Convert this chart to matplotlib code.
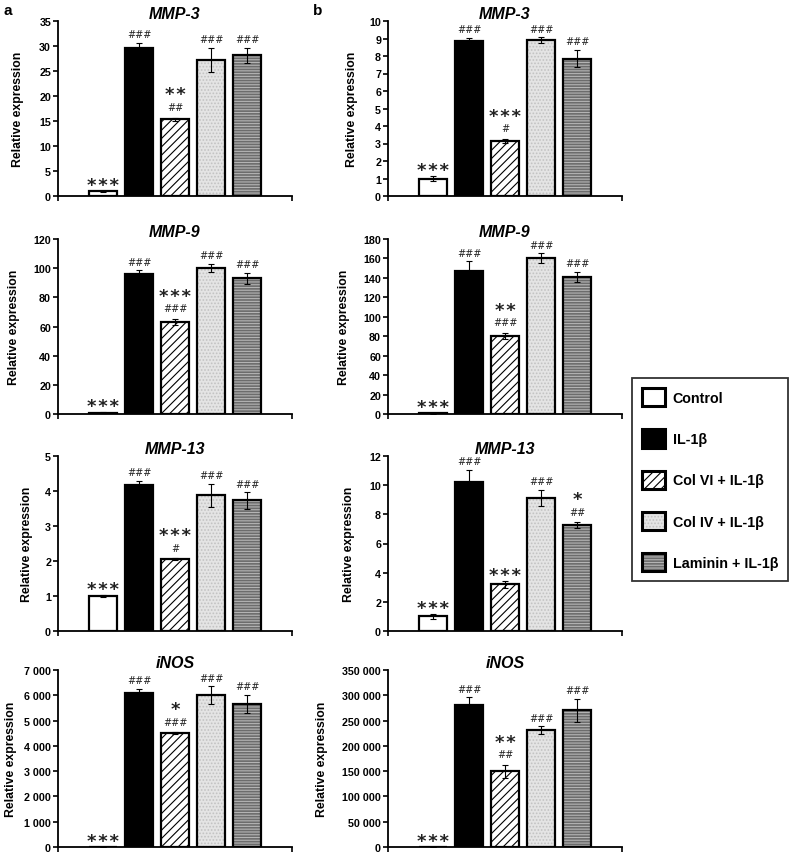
import matplotlib
matplotlib.use('Agg')
import matplotlib.pyplot as plt
from matplotlib.patches import Patch
from matplotlib.legend_handler import HandlerTuple
from matplotlib.ticker import FuncFormatter, MultipleLocator

plt.rcParams['font.family'] = ['Liberation Sans', 'DejaVu Sans']
plt.rcParams['font.weight'] = 'bold'
plt.rcParams['hatch.linewidth'] = 0.8

# ---------------- data ----------------
groups = ['Control', 'IL-1β', 'Col VI + IL-1β', 'Col IV + IL-1β', 'Laminin + IL-1β']
genes = ['MMP-3', 'MMP-9', 'MMP-13', 'iNOS']

# panel a
a_mmp3 = [1.0, 29.6, 15.4, 27.2, 28.2]
a_mmp3_err = [0.1, 1.0, 0.3, 2.4, 1.5]
a_mmp9 = [1.0, 96.3, 63.1, 100.4, 93.1]
a_mmp9_err = [0.3, 2.3, 2.2, 2.7, 3.7]
a_mmp13 = [1.0, 4.17, 2.06, 3.88, 3.73]
a_mmp13_err = [0.03, 0.12, 0.02, 0.33, 0.23]
a_inos = [1.0, 6100, 4490, 6000, 5650]
a_inos_err = [1.0, 150, 40, 350, 370]

# panel b
b_mmp3 = [1.0, 8.85, 3.15, 8.9, 7.85]
b_mmp3_err = [0.15, 0.2, 0.1, 0.18, 0.5]
b_mmp9 = [1.0, 147, 80.6, 160.4, 141.2]
b_mmp9_err = [0.5, 10, 3, 5, 5]
b_mmp13 = [1.0, 10.2, 3.2, 9.15, 7.25]
b_mmp13_err = [0.15, 0.85, 0.22, 0.55, 0.2]
b_inos = [1.0, 280000, 150000, 231000, 270000]
b_inos_err = [500, 16000, 13000, 8000, 23000]

# significance marks (* vs IL-1β, # vs control)
a_stars = [['***', '', '**', '', ''], ['***', '', '***', '', ''],
           ['***', '', '***', '', ''], ['***', '', '*', '', '']]
a_hash = [['', '###', '##', '###', '###'], ['', '###', '###', '###', '###'],
          ['', '###', '#', '###', '###'], ['', '###', '###', '###', '###']]
b_stars = [['***', '', '***', '', ''], ['***', '', '**', '', ''],
           ['***', '', '***', '', '*'], ['***', '', '**', '', '']]
b_hash = [['', '###', '#', '###', '###'], ['', '###', '###', '###', '###'],
          ['', '###', '', '###', '##'], ['', '###', '##', '###', '###']]

a_ymax = [35, 120, 5, 7000]
a_ystep = [5, 20, 1, 1000]
b_ymax = [10, 180, 12, 350000]
b_ystep = [1, 20, 2, 50000]

a_vals = [a_mmp3, a_mmp9, a_mmp13, a_inos]
a_errs = [a_mmp3_err, a_mmp9_err, a_mmp13_err, a_inos_err]
b_vals = [b_mmp3, b_mmp9, b_mmp13, b_inos]
b_errs = [b_mmp3_err, b_mmp9_err, b_mmp13_err, b_inos_err]

# ---------------- styles ----------------
face = ['white', 'black', 'white', '#e4e4e4', '#6c6c6c']
hatches = [None, None, '////', '.....', '------']
hcolor = ['white', 'black', 'black', '#c2c2c2', '#b4b4b4']

W, H = 789, 854
fig = plt.figure(figsize=(W / 100, H / 100), dpi=100)
col_x = [58, 388]
ax_w = 234
row_y = [(22, 197), (240, 415), (457, 632), (671, 848)]
ylab_px = [[18.5, 14, 27.5, 11], [352.5, 344, 349, 322.5]]


def fmt(v, p):
    return f'{int(round(v)):,}'.replace(',', ' ')


def draw_panel(ax, vals, errs, ymax, ystep, stars, hashes, title):
    x = list(range(len(vals)))
    for i in x:
        ax.bar(i, vals[i], width=0.8, color=face[i], hatch=hatches[i],
               edgecolor=hcolor[i], linewidth=0, zorder=2)
        ax.bar(i, vals[i], width=0.8, fill=False, edgecolor='black',
               linewidth=1.6, zorder=3)
    ax.errorbar(x, vals, yerr=errs, fmt='none', ecolor='black', elinewidth=0.8,
                capsize=2, capthick=0.8, zorder=4)
    for i in x:
        top = vals[i] + errs[i]
        if hashes[i]:
            ax.annotate(hashes[i], (i, top), xytext=(0, 5.5 if stars[i] else 4),
                        textcoords='offset points', ha='center', va='baseline',
                        fontsize=7, family='DejaVu Sans', fontweight='normal',
                        color='#222222', zorder=5)
        if stars[i]:
            ax.annotate('\u200a'.join(stars[i]), (i, top),
                        xytext=(0, 13 if hashes[i] else 0.6),
                        textcoords='offset points', ha='center', va='baseline',
                        fontsize=13, family='DejaVu Sans', fontweight='bold',
                        color='#222222', zorder=5)
    ax.set_xlim(-1.25, 5.25)
    ax.set_ylim(0, ymax)
    ax.yaxis.set_major_locator(MultipleLocator(ystep))
    ax.yaxis.set_major_formatter(FuncFormatter(fmt))
    ax.set_xticks([-1.25, 5.25])
    ax.set_xticklabels(['', ''])
    ax.tick_params(axis='both', direction='out', length=3.5, width=1.2, pad=1.5,
                   labelsize=7.7)
    for lab in ax.get_yticklabels():
        lab.set_fontweight('bold')
    ax.spines['top'].set_visible(False)
    ax.spines['right'].set_visible(False)
    ax.spines['left'].set_linewidth(1.3)
    ax.spines['bottom'].set_linewidth(1.3)
    ax.set_title(title, style='italic', fontweight='bold', fontsize=11.5, pad=2)


for c, (vals_all, errs_all, ymaxs, ysteps, st, hs) in enumerate([
        (a_vals, a_errs, a_ymax, a_ystep, a_stars, a_hash),
        (b_vals, b_errs, b_ymax, b_ystep, b_stars, b_hash)]):
    for r in range(4):
        top, bot = row_y[r]
        ax = fig.add_axes([col_x[c] / W, 1 - bot / H, ax_w / W, (bot - top) / H])
        draw_panel(ax, vals_all[r], errs_all[r], ymaxs[r], ysteps[r], st[r], hs[r], genes[r])
        ax.set_ylabel('Relative expression', fontsize=8.8, fontweight='bold', va='center')
        ax.yaxis.set_label_coords((ylab_px[c][r] - col_x[c]) / ax_w, 0.5)

fig.text(3 / W, 1 - 4 / H, 'a', fontsize=11, fontweight='bold', va='top', ha='left')
fig.text(313 / W, 1 - 4 / H, 'b', fontsize=11, fontweight='bold', va='top', ha='left')

handles = []
for i in range(5):
    p1 = Patch(facecolor=face[i], hatch=hatches[i], edgecolor=hcolor[i], linewidth=0)
    p2 = Patch(fill=False, edgecolor='black', linewidth=2.2)
    handles.append((p1, p2))
leg = fig.legend(handles, groups, loc='upper left',
                 bbox_to_anchor=(632 / W, 1 - 379 / H),
                 handler_map={tuple: HandlerTuple(ndivide=1)},
                 frameon=True, fancybox=False, edgecolor='black',
                 fontsize=10.3, handlelength=1.6, handleheight=1.6,
                 handletextpad=0.55, labelspacing=1.6, borderpad=0.7,
                 borderaxespad=0)
leg.get_frame().set_linewidth(1.3)
for t in leg.get_texts():
    t.set_fontweight('bold')

fig.savefig('out.png', dpi=100)
